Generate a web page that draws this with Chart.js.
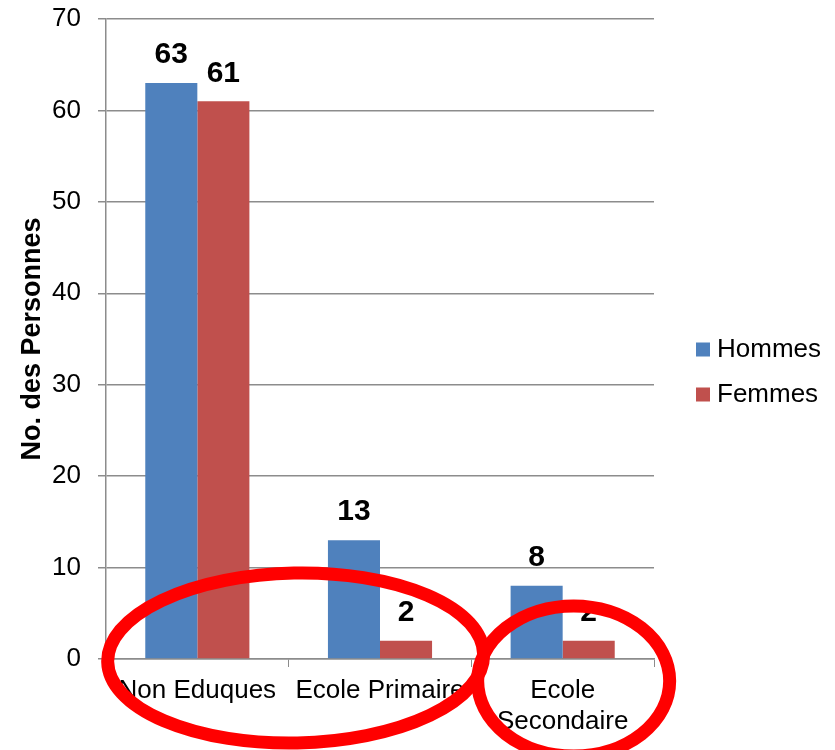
<!DOCTYPE html>
<html>
<head>
<meta charset="utf-8">
<script src="https://cdn.jsdelivr.net/npm/chart.js@4"></script>
<style>
  html, body { margin: 0; padding: 0; background: #fff; }
  #wrap { width: 835px; height: 750px; position: relative; }
</style>
</head>
<body>
<div id="wrap"><canvas id="eduChart"></canvas></div>
<script>
const categories = ["Non Eduques", "Ecole Primaire", ["Ecole", "Secondaire"]];
const hommes = [63, 13, 8];
const femmes = [61, 2, 2];
const yTicks = [0, 10, 20, 30, 40, 50, 60, 70];

const FONT = "'Liberation Sans', Arial, sans-serif";

// bold value labels above each bar
const valueLabels = {
    id: "valueLabels",
    afterDatasetsDraw(chart) {
        const ctx = chart.ctx;
        ctx.save();
        ctx.font = "bold 30px " + FONT;
        ctx.fillStyle = "#000";
        ctx.textAlign = "center";
        ctx.textBaseline = "bottom";
        chart.data.datasets.forEach((ds, i) => {
            chart.getDatasetMeta(i).data.forEach((bar, j) => {
                ctx.fillText(ds.data[j], bar.x, bar.y - 13);
            });
        });
        ctx.restore();
    }
};

// legend on the right, Excel style (square + label)
const sideLegend = {
    id: "sideLegend",
    afterDraw(chart) {
        const ctx = chart.ctx;
        const left = chart.chartArea.right + 42;
        const midY = (chart.chartArea.top + chart.chartArea.bottom) / 2;
        ctx.save();
        ctx.font = "26px " + FONT;
        ctx.textBaseline = "middle";
        chart.data.datasets.forEach((ds, i) => {
            const y = midY + 10.5 + i * 45;
            ctx.fillStyle = ds.backgroundColor;
            ctx.fillRect(left, y - 7, 14, 14);
            ctx.fillStyle = "#000";
            ctx.fillText(ds.label, left + 21, y);
        });
        ctx.restore();
    }
};

// red hand-drawn circles over the category labels
const redCircles = {
    id: "redCircles",
    afterDraw(chart) {
        const ctx = chart.ctx;
        const x = chart.scales.x;
        const bottom = chart.chartArea.bottom;
        ctx.save();
        ctx.strokeStyle = "#ff0000";
        ctx.lineWidth = 13;
        const c1 = (x.getPixelForValue(0) + x.getPixelForValue(1)) / 2 + 7;
        ctx.beginPath();
        ctx.ellipse(c1, bottom - 1, 188, 85, -0.02, 0, Math.PI * 2);
        ctx.stroke();
        const c2 = x.getPixelForValue(2) + 11;
        ctx.beginPath();
        ctx.ellipse(c2, bottom + 22, 96, 75, 0, 0, Math.PI * 2);
        ctx.stroke();
        ctx.restore();
    }
};

new Chart(document.getElementById("eduChart"), {
    type: "bar",
    data: {
        labels: categories,
        datasets: [
            { label: "Hommes", data: hommes, backgroundColor: "#4f81bd" },
            { label: "Femmes", data: femmes, backgroundColor: "#c0504d" }
        ]
    },
    options: {
        responsive: true,
        maintainAspectRatio: false,
        animation: false,
        layout: { padding: { top: 19, right: 181, left: 0, bottom: 0 } },
        datasets: { bar: { categoryPercentage: 0.57, barPercentage: 1.0 } },
        plugins: {
            legend: { display: false },
            tooltip: { enabled: false }
        },
        scales: {
            x: {
                grid: { drawOnChartArea: false, drawTicks: true, tickLength: 8, color: "#8c8c8c", offset: true },
                border: { color: "#8c8c8c", width: 1.5 },
                ticks: { color: "#000", padding: 8, maxRotation: 0, font: { family: FONT, size: 26 } },
                afterFit(scale) { scale.height = 91; }
            },
            y: {
                min: 0,
                max: 70,
                afterBuildTicks(scale) { scale.ticks = yTicks.map(v => ({ value: v })); },
                grid: { color: "#8c8c8c", lineWidth: 1.5, tickLength: 8 },
                border: { color: "#8c8c8c", width: 1.5 },
                ticks: { color: "#000", padding: 17, font: { family: FONT, size: 26 } },
                title: {
                    display: true,
                    text: "No. des Personnes",
                    color: "#000",
                    padding: { top: 16, bottom: 0 },
                    font: { family: FONT, size: 27, weight: "bold" }
                },
                afterFit(scale) {
                    scale.width = 106;
                    scale.paddingTop = 0;
                }
            }
        }
    },
    plugins: [valueLabels, sideLegend, redCircles]
});
</script>
</body>
</html>
